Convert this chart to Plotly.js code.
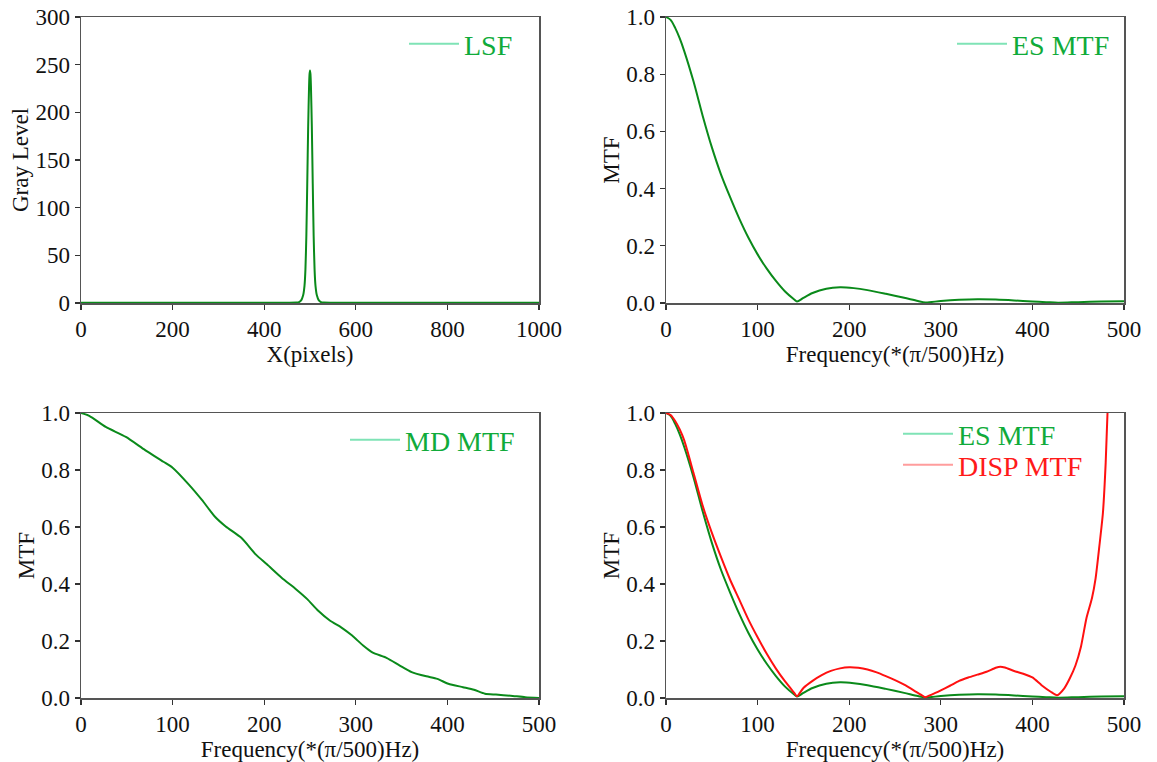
<!DOCTYPE html>
<html>
<head>
<meta charset="utf-8">
<script src="https://cdn.plot.ly/plotly-3.0.1.min.js"></script>
<style>html,body{margin:0;padding:0;background:#fff;}#chart{width:1157px;height:762px;}</style>
</head>
<body>
<div id="chart"></div>
<script>
// ---- Panel 1: LSF ----
const lsfX = [0, 100, 200, 300, 400, 450, 470, 476, 481, 485, 488, 490, 492, 494, 496, 498, 499, 500, 501, 502, 504, 506, 508, 510, 512, 515, 519, 524, 530, 550, 600, 700, 800, 900, 1000];
const lsfY = [0.3, 0.3, 0.3, 0.3, 0.3, 0.3, 0.4, 0.9, 3, 8, 18, 35, 70, 125, 185, 228, 240, 244, 240, 228, 185, 125, 70, 35, 18, 8, 3, 0.9, 0.4, 0.3, 0.3, 0.3, 0.3, 0.3, 0.3];

// ---- ES MTF (panels 2 and 4) ----
const esFreq = [0, 5, 10, 15, 20, 30, 40, 50, 60, 70, 80, 90, 100, 110, 120, 130, 140, 143, 150, 160, 175, 190, 205, 220, 240, 260, 275, 283, 300, 320, 340, 360, 380, 400, 415, 428, 450, 475, 500];
const esMTF = [1.0, 0.99, 0.962, 0.925, 0.88, 0.775, 0.655, 0.545, 0.45, 0.37, 0.295, 0.228, 0.17, 0.12, 0.077, 0.04, 0.012, 0.005, 0.018, 0.035, 0.05, 0.055, 0.052, 0.045, 0.032, 0.018, 0.007, 0.002, 0.007, 0.011, 0.013, 0.012, 0.009, 0.005, 0.003, 0.001, 0.003, 0.005, 0.006];

// ---- MD MTF (panel 3) ----
const mdFreq = [0, 9, 27, 49, 70, 90, 100, 118, 132, 146, 158, 175, 191, 203, 219, 235, 247, 259, 272, 284, 296, 308, 318, 334, 348, 361, 377, 389, 401, 417, 429, 441, 453, 469, 485, 500];
const mdMTF = [1.0, 0.99, 0.951, 0.916, 0.870, 0.829, 0.808, 0.748, 0.695, 0.637, 0.602, 0.562, 0.503, 0.469, 0.422, 0.381, 0.347, 0.306, 0.271, 0.248, 0.219, 0.184, 0.160, 0.140, 0.114, 0.091, 0.076, 0.067, 0.050, 0.038, 0.029, 0.015, 0.012, 0.008, 0.003, 0.0];

// ---- DISP MTF (panel 4) ----
const dispFreq = [0, 5, 10, 15, 20, 30, 40, 50, 60, 70, 80, 90, 100, 110, 120, 130, 140, 143, 150, 160, 170, 180, 190, 200, 210, 220, 230, 240, 250, 260, 270, 280, 283, 290, 300, 310, 320, 330, 340, 350, 360, 365, 370, 380, 390, 400, 410, 420, 427, 435, 441, 447, 453, 459, 465, 469, 473, 477, 480, 482, 490, 500];
const dispMTF = [1.0, 0.993, 0.972, 0.942, 0.903, 0.79, 0.675, 0.58, 0.495, 0.415, 0.345, 0.275, 0.213, 0.155, 0.103, 0.058, 0.018, 0.006, 0.035, 0.06, 0.08, 0.095, 0.104, 0.108, 0.106, 0.1, 0.09, 0.077, 0.063, 0.047, 0.028, 0.008, 0.003, 0.012, 0.027, 0.043, 0.06, 0.072, 0.082, 0.092, 0.106, 0.11, 0.107, 0.095, 0.085, 0.072, 0.045, 0.022, 0.01, 0.035, 0.07, 0.114, 0.18, 0.28, 0.35, 0.42, 0.53, 0.65, 0.825, 1.0, 1.5, 2.0];

// legend labels
const names = ['LSF', 'ES MTF', 'MD MTF', 'DISP MTF'];

const LINE_GREEN = '#0a8a1a';
const LINE_RED = '#ff1010';
const LEG_GREEN = '#7fe3b6';
const LEG_RED = '#ff9d9d';
const TXT_GREEN = '#10ab3a';
const TXT_RED = '#ff1a1a';
const FONT = 'Liberation Serif, Times New Roman, serif';

const data = [
  {x: lsfX, y: lsfY, xaxis: 'x', yaxis: 'y', mode: 'lines', line: {color: LINE_GREEN, width: 2, shape: 'spline', smoothing: 0.6}, showlegend: false},
  {x: [null], y: [null], xaxis: 'x', yaxis: 'y', mode: 'lines', name: names[0], line: {color: LEG_GREEN, width: 2}, legend: 'legend'},

  {x: esFreq, y: esMTF, xaxis: 'x2', yaxis: 'y2', mode: 'lines', line: {color: LINE_GREEN, width: 2, shape: 'spline', smoothing: 0.8}, showlegend: false},
  {x: [null], y: [null], xaxis: 'x2', yaxis: 'y2', mode: 'lines', name: names[1], line: {color: LEG_GREEN, width: 2}, legend: 'legend2'},

  {x: mdFreq, y: mdMTF, xaxis: 'x3', yaxis: 'y3', mode: 'lines', line: {color: LINE_GREEN, width: 2, shape: 'spline', smoothing: 0.6}, showlegend: false},
  {x: [null], y: [null], xaxis: 'x3', yaxis: 'y3', mode: 'lines', name: names[2], line: {color: LEG_GREEN, width: 2}, legend: 'legend3'},

  {x: esFreq, y: esMTF, xaxis: 'x4', yaxis: 'y4', mode: 'lines', line: {color: LINE_GREEN, width: 2, shape: 'spline', smoothing: 0.8}, showlegend: false},
  {x: dispFreq, y: dispMTF, xaxis: 'x4', yaxis: 'y4', mode: 'lines', line: {color: LINE_RED, width: 2, shape: 'spline', smoothing: 0.6}, showlegend: false},
  {x: [null], y: [null], xaxis: 'x4', yaxis: 'y4', mode: 'lines', name: names[1], line: {color: LEG_GREEN, width: 2}, legend: 'legend4'},
  {x: [null], y: [null], xaxis: 'x4', yaxis: 'y4', mode: 'lines', name: names[3], line: {color: LEG_RED, width: 2}, legend: 'legend5'}
];

function xa(domain, range, dtick, title, anchor) {
  return {
    domain: domain, range: range, dtick: dtick, tick0: 0, anchor: anchor,
    showline: true, mirror: true, linecolor: '#555', linewidth: 1.5,
    ticks: 'outside', ticklen: 5, tickwidth: 1.2, tickcolor: '#333',
    showgrid: false, zeroline: false, fixedrange: true,
    tickfont: {family: FONT, size: 23, color: '#111'},
    title: {text: title, font: {family: FONT, size: 23, color: '#111'}, standoff: 4}
  };
}
function ya(domain, range, dtick, title, anchor, fmt) {
  const o = xa(domain, range, dtick, title, anchor);
  if (fmt) o.tickformat = fmt;
  o.title.standoff = 0;
  return o;
}

const L1 = [81/1157, 539/1157], L2 = [666/1157, 1124/1157];
const T = [1 - 303/762, 1 - 17/762], B = [1 - 698/762, 1 - 413/762];

function leg(x, y, color) {
  return {x: x, y: y, xanchor: 'left', yanchor: 'middle', bgcolor: 'rgba(0,0,0,0)', borderwidth: 0,
          itemwidth: 50, font: {family: FONT, size: 28, color: color || TXT_GREEN}, tracegroupgap: 0};
}

const layout = {
  width: 1157, height: 762,
  margin: {l: 0, r: 0, t: 0, b: 0},
  paper_bgcolor: '#fff', plot_bgcolor: '#fff',
  showlegend: true,
  xaxis: xa(L1, [0, 1000], 200, 'X(pixels)', 'y'),
  yaxis: ya(T, [0, 300], 50, 'Gray Level', 'x'),
  xaxis2: xa(L2, [0, 500], 100, 'Frequency(*(π/500)Hz)', 'y2'),
  yaxis2: ya(T, [0, 1], 0.2, 'MTF', 'x2', '.1f'),
  xaxis3: xa(L1, [0, 500], 100, 'Frequency(*(π/500)Hz)', 'y3'),
  yaxis3: ya(B, [0, 1], 0.2, 'MTF', 'x3', '.1f'),
  xaxis4: xa(L2, [0, 500], 100, 'Frequency(*(π/500)Hz)', 'y4'),
  yaxis4: ya(B, [0, 1], 0.2, 'MTF', 'x4', '.1f'),
  legend: leg(404/1157, 1 - 44/762),
  legend2: leg(952/1157, 1 - 44/762),
  legend3: leg(345/1157, 1 - 440/762),
  legend4: leg(898/1157, 1 - 434/762),
  legend5: leg(898/1157, 1 - 465/762, TXT_RED)
};

Plotly.newPlot('chart', data, layout, {staticPlot: true, displayModeBar: false});
</script>
</body>
</html>
